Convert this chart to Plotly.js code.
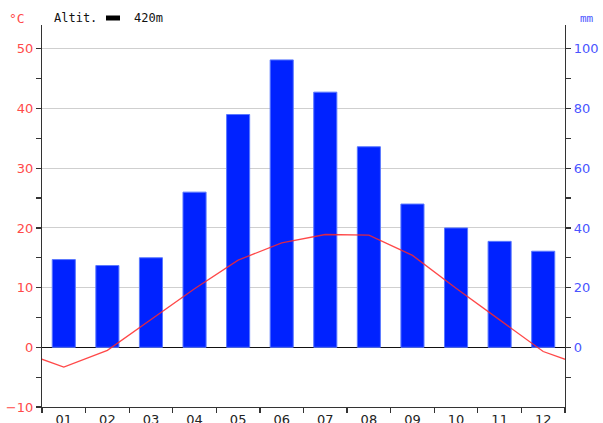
<!DOCTYPE html>
<html>
<head>
<meta charset="utf-8">
<script src="https://cdn.plot.ly/plotly-3.0.1.min.js"></script>
<style>html,body{margin:0;padding:0;background:#fff;}#chart{width:603px;height:423px;}</style>
</head>
<body>
<div id="chart"></div>
<script>
var months = ['01','02','03','04','05','06','07','08','09','10','11','12'];
var monthPos = [1,2,3,4,5,6,7,8,9,10,11,12];
var temperature = [-3.3, -0.5, 4.7, 9.8, 14.6, 17.5, 18.9, 18.8, 15.4, 9.9, 4.6, -0.7];
var precipitation = [29.4, 27.4, 30, 52, 78, 96.3, 85.5, 67.2, 48, 40, 35.5, 32.2];
var tempTicks = [-10, 0, 10, 20, 30, 40, 50];
var precTicks = [0, 20, 40, 60, 80, 100];
var altitudeLabel = 'Altit.';
var altitudeValue = '420m';

// wrap the year around so the line continues past the plot edges (Dec before Jan, Jan after Dec)
var lineX = [0].concat(monthPos, [13]);
var lineY = [temperature[11]].concat(temperature, [temperature[0]]);

var L = 42, R = 565, T = 25, B = 407;
function px(x){ return (x - L) / (R - L); }
function py(y){ return (B - y) / (B - T); }

var traces = [
  {
    type: 'bar', x: monthPos, y: precipitation, yaxis: 'y', xaxis: 'x',
    width: 0.53,
    marker: {color: '#0022ff', line: {color: '#5a78ff', width: 1}},
    hoverinfo: 'skip', showlegend: false
  },
  {
    type: 'scatter', mode: 'lines', x: lineX, y: lineY, yaxis: 'y2', xaxis: 'x',
    line: {color: 'rgba(255,40,40,0.85)', width: 1.3},
    hoverinfo: 'skip', showlegend: false
  }
];

var layout = {
  width: 603, height: 423,
  margin: {l: L, r: 603 - R, t: T, b: 423 - B},
  paper_bgcolor: '#fff', plot_bgcolor: '#fff',
  showlegend: false,
  bargap: 0.47,
  xaxis: {
    type: 'linear', range: [0.5, 12.5],
    tickmode: 'array', tickvals: monthPos, ticktext: months,
    ticks: '', showgrid: false, zeroline: false,
    showline: true, linecolor: '#333', linewidth: 1.2,
    tickfont: {family: 'DejaVu Sans', size: 13, color: '#222'},
    minor: {tickmode: 'linear', tick0: 0.5, dtick: 1, ticks: 'outside', ticklen: 5, tickcolor: '#333', tickwidth: 1.2, showgrid: false},
    fixedrange: true
  },
  yaxis: {
    side: 'right', range: [-20, 108],
    tickmode: 'array', tickvals: precTicks,
    ticks: 'outside', ticklen: 5, tickcolor: '#333', tickwidth: 1.2,
    showgrid: false, zeroline: false,
    showline: true, linecolor: '#333', linewidth: 1.2,
    tickfont: {family: 'DejaVu Sans', size: 13, color: '#4a55ff'},
    minor: {tickmode: 'linear', tick0: 10, dtick: 20, ticks: 'outside', ticklen: 5, tickcolor: '#333', tickwidth: 1.2, showgrid: false},
    fixedrange: true
  },
  yaxis2: {
    side: 'left', overlaying: 'y', range: [-10, 54],
    tickmode: 'array', tickvals: tempTicks,
    ticks: 'outside', ticklen: 5, tickcolor: '#333', tickwidth: 1.2,
    showgrid: true, gridcolor: '#cfcfcf', gridwidth: 1,
    zeroline: true, zerolinecolor: '#111', zerolinewidth: 1.2,
    showline: true, linecolor: '#333', linewidth: 1.2,
    tickfont: {family: 'DejaVu Sans', size: 13, color: '#ff4a4a'},
    minor: {tickmode: 'linear', tick0: 5, dtick: 10, ticks: 'outside', ticklen: 5, tickcolor: '#333', tickwidth: 1.2, showgrid: false},
    fixedrange: true
  },
  shapes: [
    {type: 'line', xref: 'paper', yref: 'paper', x0: px(106), x1: px(120), y0: py(18), y1: py(18),
     line: {color: '#000', width: 5}}
  ],
  annotations: [
    {text: '°C', xref: 'paper', yref: 'paper', x: px(17), y: py(18), xanchor: 'center', yanchor: 'middle',
     showarrow: false, font: {family: 'DejaVu Sans Mono', size: 13, color: '#ff4a4a'}},
    {text: altitudeLabel, xref: 'paper', yref: 'paper', x: px(52), y: py(18), xanchor: 'left', yanchor: 'middle',
     showarrow: false, font: {family: 'DejaVu Sans Mono', size: 12, color: '#111'}},
    {text: altitudeValue, xref: 'paper', yref: 'paper', x: px(132), y: py(18), xanchor: 'left', yanchor: 'middle',
     showarrow: false, font: {family: 'DejaVu Sans Mono', size: 12, color: '#111'}},
    {text: 'mm', xref: 'paper', yref: 'paper', x: px(587), y: py(18), xanchor: 'center', yanchor: 'middle',
     showarrow: false, font: {family: 'DejaVu Sans Mono', size: 11, color: '#4a55ff'}}
  ]
};

Plotly.newPlot('chart', traces, layout, {displayModeBar: false, staticPlot: true});
</script>
</body>
</html>
